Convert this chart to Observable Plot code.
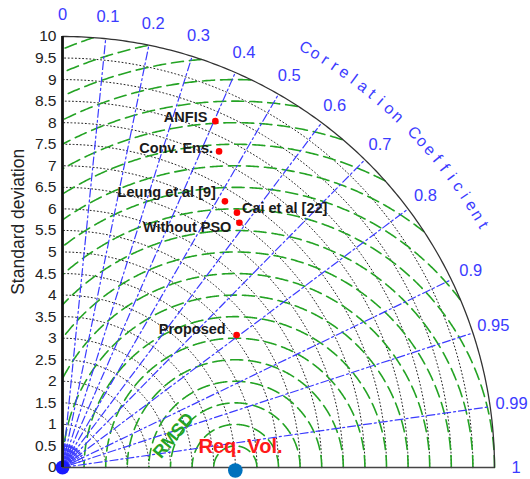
<!DOCTYPE html>
<html>
<head>
<meta charset="utf-8">
<script src="https://cdn.jsdelivr.net/npm/d3@7"></script>
<script src="https://cdn.jsdelivr.net/npm/@observablehq/plot@0.6"></script>
<style>
  html, body { margin: 0; padding: 0; background: #fff; }
  #chart { width: 530px; height: 479px; }
</style>
</head>
<body>
<div id="chart"></div>
<script>
// ---- data ----
const refStd = 4.0;                      // "Req. Vol." reference point
const refLabel = "Req. Vol.";
const models = ["ANFIS", "Conv. Ens.", "Leung et al [9]", "Cai et al [22]", "Without PSO", "Proposed"];
const modelStd = [8.78, 8.18, 7.23, 7.16, 7.00, 5.07];
const modelCorr = [0.403, 0.443, 0.520, 0.564, 0.585, 0.795];
const stdTicks = [0, 0.5, 1, 1.5, 2, 2.5, 3, 3.5, 4, 4.5, 5, 5.5, 6, 6.5, 7, 7.5, 8, 8.5, 9, 9.5, 10];
const corrTicks = [0, 0.1, 0.2, 0.3, 0.4, 0.5, 0.6, 0.7, 0.8, 0.9, 0.95, 0.99, 1];
const rmsdLevels = [0.5, 1, 1.5, 2, 2.5, 3, 3.5, 4, 4.5, 5, 5.5, 6, 6.5, 7, 7.5, 8, 8.5, 9, 9.5, 10, 10.5];
const stdMax = 10;
const corrTitle = "Correlation Coefficient";

// ---- label placement (styles, kept apart from the data) ----
const labelAnchor = ["end", "end", "end", "start", "end", "end"];
const labelDx = [-8, -6, -9, 5, -8, -11];
const labelDy = [-4, -3, -9, -4, 5, -6];

// ---- derived tables ----
const pts = models.map((name, i) => ({
  name, i,
  x: modelStd[i] * modelCorr[i],
  y: modelStd[i] * Math.sqrt(1 - modelCorr[i] * modelCorr[i])
}));

const stdArcs = [];
stdTicks.filter(r => r > 0 && r < stdMax).forEach(r => {
  for (let k = 0; k <= 180; k++) {
    const t = (k / 180) * Math.PI / 2;
    stdArcs.push({r, x: r * Math.cos(t), y: r * Math.sin(t)});
  }
});
const outerArc = d3.range(0, 181).map(k => {
  const t = (k / 180) * Math.PI / 2;
  return {x: stdMax * Math.cos(t), y: stdMax * Math.sin(t)};
});

const corrLines = [];
corrTicks.filter(c => c > 0 && c < 1).forEach(c => {
  const s = Math.sqrt(1 - c * c);
  corrLines.push({c, x: 0, y: 0}, {c, x: stdMax * c, y: stdMax * s});
});
// short minor spokes near the origin
const minorSpokes = [];
d3.range(1, 20).map(k => k * 0.05).forEach(c => {
  const s = Math.sqrt(1 - c * c);
  minorSpokes.push({c, x: 0.12 * c, y: 0.12 * s}, {c, x: 0.55 * c, y: 0.55 * s});
});

const rmsdArcs = [];
let seg = 0;
rmsdLevels.forEach(R => {
  let inside = false;
  for (let k = 0; k <= 720; k++) {
    const p = (k / 720) * Math.PI;
    const x = refStd + R * Math.cos(p), y = R * Math.sin(p);
    const ok = x >= -1e-9 && x * x + y * y <= stdMax * stdMax + 1e-6;
    if (ok) {
      if (!inside) { seg++; inside = true; }
      rmsdArcs.push({seg, x, y});
    } else inside = false;
  }
});

const titleChars = corrTitle.split("").map((ch, i, a) => {
  const th = 60 - i * (30 / (a.length - 1));
  const t = th * Math.PI / 180;
  return {ch, x: 11.25 * Math.cos(t), y: 11.25 * Math.sin(t), rot: 90 - th};
});

const blue = "#3b3bff";
const green = "#24a324";

const labelMarks = pts.map(p => Plot.text([p], {
  x: "x", y: "y", text: "name", fontSize: 14.5, fontWeight: "bold", fill: "#1a1a1a",
  textAnchor: labelAnchor[p.i], dx: labelDx[p.i], dy: labelDy[p.i]
}));

const chart = Plot.plot({
  width: 530,
  height: 479,
  marginLeft: 62,
  marginRight: 36,
  marginTop: 36,
  marginBottom: 12,
  x: {domain: [0, stdMax], axis: null},
  y: {domain: [0, stdMax], axis: null},
  style: {fontFamily: "'Liberation Sans', Arial, Helvetica, sans-serif", background: "white", overflow: "visible"},
  marks: [
    // std dev dotted arcs
    Plot.line(stdArcs, {x: "x", y: "y", z: "r", stroke: "#222", strokeWidth: 1, strokeDasharray: "1,2.6"}),
    // RMSD circles
    Plot.line(rmsdArcs, {x: "x", y: "y", z: "seg", stroke: green, strokeWidth: 1.6, strokeDasharray: "12,6"}),
    // correlation lines
    Plot.line(corrLines, {x: "x", y: "y", z: "c", stroke: blue, strokeWidth: 1.2, strokeDasharray: "8,3,2,3"}),
    Plot.line(minorSpokes, {x: "x", y: "y", z: "c", stroke: blue, strokeWidth: 1.2, strokeDasharray: "2,2"}),
    Plot.dot([0], {x: 0, y: 0, r: 7, fill: "#1a1aff", stroke: "none"}),
    // outer arc and axes
    Plot.line(outerArc, {x: "x", y: "y", stroke: "#333", strokeWidth: 1.3}),
    Plot.ruleY([0], {x1: 0, x2: stdMax, stroke: "#444", strokeWidth: 1.6}),
    Plot.ruleX([0], {y1: 0, y2: stdMax, stroke: "#111", strokeWidth: 2.8}),
    // std tick labels
    Plot.text(stdTicks, {x: 0, y: d => d, text: d => String(d), textAnchor: "end", dx: -6, fontSize: 15.5, fill: "#222"}),
    Plot.text(["Standard deviation"], {x: -1.02, y: 5.7, text: d => d, rotate: -90, fontSize: 17.5, fill: "#222"}),
    // correlation labels
    Plot.text(corrTicks, {
      x: c => 10.5 * c, y: c => 10.5 * Math.sqrt(1 - c * c),
      text: c => String(c), fontSize: 16.5, fill: blue
    }),
    Plot.text(titleChars, {x: "x", y: "y", text: "ch", rotate: "rot", fontSize: 16, fill: blue}),
    // reference
    Plot.dot([refStd], {x: d => d, y: 0, dy: 3, r: 7.3, fill: "#0072BD", stroke: "none"}),
    Plot.text([refLabel], {x: refStd + 0.12, y: 0.48, text: d => d, fontSize: 20, fontWeight: "bold", fill: "#ff1a1a"}),
    Plot.text(["RMSD"], {x: 2.57, y: 0.74, text: d => d, rotate: -50, fontSize: 18, fontWeight: "bold", fill: green}),
    // models
    Plot.dot(pts, {x: "x", y: "y", r: 3.3, fill: "#ff0000", stroke: "none"}),
    ...labelMarks
  ]
});

document.getElementById("chart").appendChild(chart);
</script>
</body>
</html>
